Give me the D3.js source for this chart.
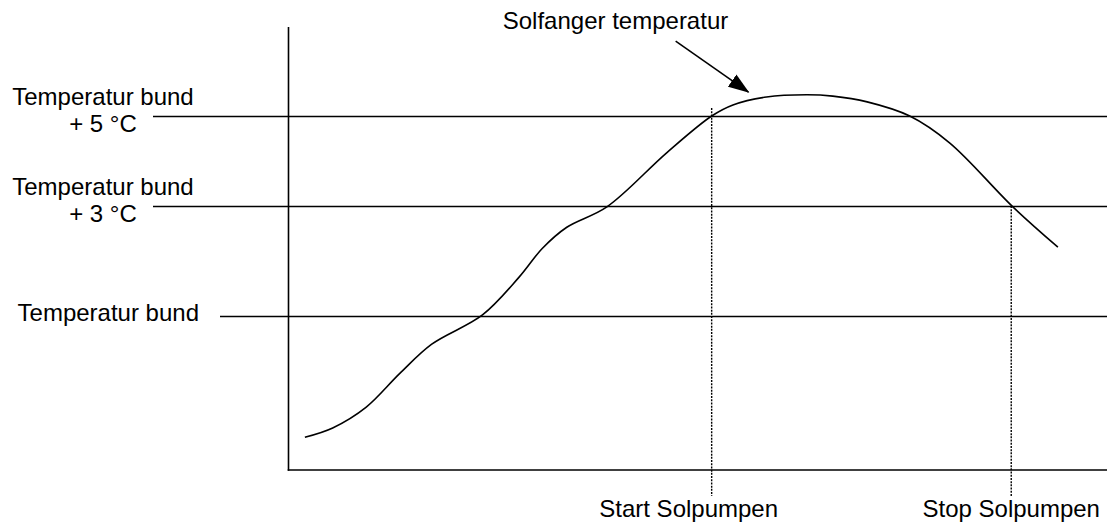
<!DOCTYPE html>
<meta charset="utf-8">
<style>
body { margin: 0; background: #fff; }
text { font: 24px "Liberation Sans", Arial, sans-serif; fill: #000; }
.axis, .level { stroke: #000; stroke-width: 1.6px; }
.curve { fill: none; stroke: #000; stroke-width: 1.6px; }
.pump { stroke: #000; stroke-width: 1.4px; stroke-dasharray: 2,1.2; }
</style>
<body>
<script src="https://d3js.org/d3.v7.min.js"></script>
<script>

// collector temperature curve (time 0..100, temperature in relative units 0..100)
var curveTime = [2.0, 5.4, 9.5, 13.6, 17.5, 23.7, 28.2, 31.0, 34.0, 38.9, 46.2, 51.7, 54.3, 58.4,
  63.3, 66.5, 70.7, 75.9, 80.8, 88.5, 94.0];
var curveTemp = [7.4, 9.5, 14.2, 21.8, 28.4, 35.0, 43.6, 50.0, 54.8, 59.4, 71.6, 79.9, 82.4, 84.2,
  84.7, 84.4, 83.1, 79.9, 73.8, 59.4, 50.3];

// reference levels
var levelNames = [["Temperatur bund", "+ 5 °C"], ["Temperatur bund", "+ 3 °C"], ["Temperatur bund"]];
var levelTemp = [79.8, 59.6, 34.8];

// pump start / stop
var pumpNames = ["Start Solpumpen", "Stop Solpumpen"];
var pumpTime = [51.7, 88.3];
var pumpTemp = [81.7, 59.6];

var title = "Solfanger temperatur";

var width = 1107, height = 523;

var x = d3.scaleLinear().domain([0, 100]).range([288.5, 1107]);
var y = d3.scaleLinear().domain([0, 100]).range([470, 27]);

var svg = d3.select("body").append("svg")
  .attr("width", width)
  .attr("height", height);

svg.append("defs").append("marker")
  .attr("id", "arrow")
  .attr("markerUnits", "userSpaceOnUse")
  .attr("viewBox", "0 -8 22 16")
  .attr("markerWidth", 22)
  .attr("markerHeight", 16)
  .attr("refX", 20)
  .attr("refY", 0)
  .attr("orient", "auto")
  .append("path")
    .attr("d", "M0,-7.5L21,0L0,7.5Z")
    .attr("fill", "#000");

// level lines
var lineStart = [153, 153, 220];
svg.selectAll(".level")
  .data(levelTemp)
  .enter().append("line")
    .attr("class", "level")
    .attr("x1", function(d, i) { return lineStart[i]; })
    .attr("x2", x(100))
    .attr("y1", function(d) { return Math.round(y(d)) + 0.5; })
    .attr("y2", function(d) { return Math.round(y(d)) + 0.5; });

// level labels
levelNames.forEach(function(names, i) {
  var t = svg.append("text")
    .attr("text-anchor", names.length > 1 ? "middle" : "end");
  if (names.length > 1) {
    names.forEach(function(n, j) {
      t.append("tspan")
        .attr("x", 103)
        .attr("y", y(levelTemp[i]) - 11 + j * 27)
        .text(n);
    });
  } else {
    t.attr("x", 199).attr("y", y(levelTemp[i]) + 5).text(names[0]);
  }
});

// axes
svg.append("line").attr("class", "axis")
  .attr("x1", x(0)).attr("x2", x(0))
  .attr("y1", y(100)).attr("y2", y(0) + 0.8);
svg.append("line").attr("class", "axis")
  .attr("x1", x(0) - 0.8).attr("x2", x(100))
  .attr("y1", y(0)).attr("y2", y(0));

// pump lines
svg.selectAll(".pump")
  .data(pumpTime)
  .enter().append("line")
    .attr("class", "pump")
    .attr("x1", function(d) { return x(d); })
    .attr("x2", function(d) { return x(d); })
    .attr("y1", function(d, i) { return y(pumpTemp[i]); })
    .attr("y2", 496);

svg.selectAll(".pumplabel")
  .data(pumpNames)
  .enter().append("text")
    .attr("class", "pumplabel")
    .attr("text-anchor", "middle")
    .attr("x", function(d, i) { return x(pumpTime[i]) - (i === 0 ? 23 : 0); })
    .attr("y", 517)
    .text(function(d) { return d; });

// temperature curve
var line = d3.line()
  .x(function(d) { return x(d[0]); })
  .y(function(d) { return y(d[1]); })
  .curve(d3.curveCatmullRom.alpha(0.5));

svg.append("path")
  .attr("class", "curve")
  .attr("d", line(d3.zip(curveTime, curveTemp)));

// title + arrow
svg.append("text")
  .attr("x", 615.5)
  .attr("y", 29)
  .attr("text-anchor", "middle")
  .text(title);

svg.append("line")
  .attr("x1", x(47.3)).attr("y1", y(96.8))
  .attr("x2", x(56.2)).attr("y2", y(85.3))
  .attr("stroke", "#000")
  .attr("stroke-width", 1.6)
  .attr("marker-end", "url(#arrow)");

</script>
</body>
